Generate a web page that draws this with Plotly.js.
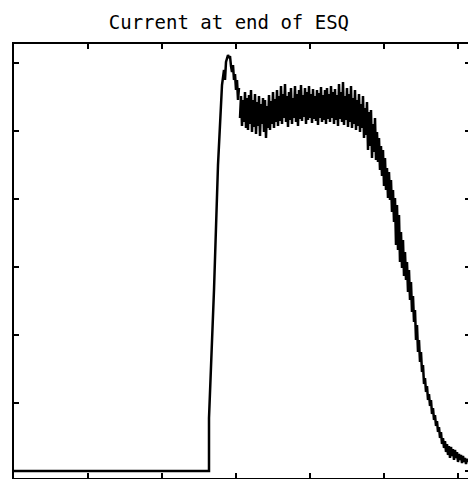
<!DOCTYPE html>
<html>
<head>
<meta charset="utf-8">
<script src="https://cdn.plot.ly/plotly-3.0.1.min.js"></script>
<style>
html, body { margin: 0; padding: 0; overflow: hidden; background: #fff; }
#chart { width: 472px; height: 479px; }
</style>
</head>
<body>
<div id="chart"></div>
<script>
// Title
const chartTitle = "Current at end of ESQ";

// Leading edge: baseline, rise and peak (time in arb. units, current in arb. units)
const riseTime = [0, 195, 195, 200, 204, 206, 208, 210, 211, 212, 214, 215, 216, 217, 218, 219, 220, 221, 222, 223, 224, 225];
const riseCurrent = [0, 0, 53, 181, 306, 343, 386, 401, 391, 409, 416, 413, 415, 405, 399, 406, 391, 397, 381, 391, 371, 383];

// Sampled noisy flat-top and fall, starting at time 226, one sample per unit
const sampleStart = 226;
const sampleStep = 1;
const sampledCurrent = [
  353, 375, 345, 371, 349, 379, 343, 373, 341, 376,
  347, 381, 339, 371, 344, 377, 337, 369, 345, 375,
  335, 367, 347, 373, 339, 371, 333, 365, 343, 376,
  341, 370, 347, 379, 343, 372, 349, 381, 345, 375,
  350, 385, 347, 377, 353, 387, 349, 375, 344, 379,
  351, 383, 347, 373, 353, 385, 349, 377, 345, 381,
  352, 386, 350, 376, 354, 383, 347, 379, 351, 385,
  353, 377, 348, 382, 352, 375, 350, 381, 346, 378,
  353, 384, 349, 376, 351, 381, 347, 383, 352, 377,
  349, 385, 353, 379, 347, 382, 351, 376, 345, 387,
  352, 379, 349, 389, 346, 375, 351, 383, 344, 377,
  349, 385, 343, 373, 347, 381, 341, 371, 345, 377,
  339, 367, 343, 375, 333, 363, 336, 369, 321, 359,
  325, 361, 313, 347, 319, 353, 311, 339, 309, 333,
  301, 325, 295, 321, 285, 313, 281, 303, 273, 299,
  271, 291, 259, 281, 249, 273, 226, 266, 221, 256,
  209, 239, 203, 231, 195, 219, 191, 209, 179, 201,
  171, 189, 159, 175, 149, 161, 131, 146, 119, 131,
  109, 119, 99, 106, 87, 93, 79, 85, 71, 77,
  65, 71, 57, 63, 51, 56, 45, 50, 39, 44,
  33, 39, 27, 33, 23, 30, 19, 27, 16, 25,
  13, 24, 15, 22, 11, 21, 13, 19, 9, 17,
  11, 16, 8, 15, 9, 13, 7, 12, 9
];

const lineStyle = { color: '#000', width: 2.5 };

const traces = [
  { type: 'scatter', mode: 'lines', x: riseTime, y: riseCurrent, line: lineStyle, hoverinfo: 'skip' },
  { type: 'scatter', mode: 'lines', x0: sampleStart, dx: sampleStep, y: sampledCurrent, line: lineStyle, hoverinfo: 'skip' }
];

const axisCommon = {
  showline: true, linecolor: '#000', linewidth: 2, mirror: 'ticks',
  ticks: 'inside', ticklen: 5, tickwidth: 2, tickcolor: '#000',
  showticklabels: false, showgrid: false, zeroline: false, tick0: 0
};

const layout = {
  width: 472, height: 479,
  margin: { l: 14, r: 2, t: 44, b: 1 },
  paper_bgcolor: '#fff', plot_bgcolor: '#fff',
  showlegend: false,
  title: {
    text: chartTitle,
    xref: 'container', yref: 'container',
    x: 0.485, y: 0.954, xanchor: 'center', yanchor: 'middle',
    font: { family: 'DejaVu Sans Mono, monospace', size: 19, color: '#000' }
  },
  xaxis: Object.assign({}, axisCommon, { range: [0, 456], dtick: 74 }),
  yaxis: Object.assign({}, axisCommon, { range: [-7, 427], dtick: 68 })
};

Plotly.newPlot('chart', traces, layout, { staticPlot: true, displayModeBar: false });
</script>
</body>
</html>
